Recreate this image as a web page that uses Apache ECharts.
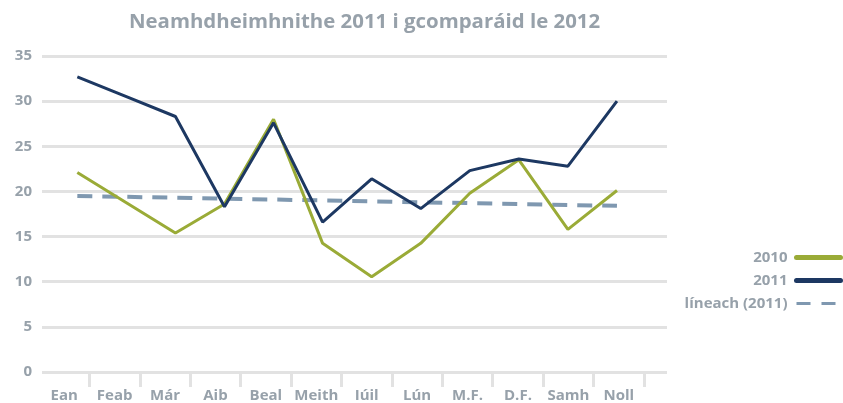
<!DOCTYPE html>
<html>
<head>
<meta charset="utf-8">
<script src="https://cdn.jsdelivr.net/npm/echarts@6/dist/echarts.min.js"></script>
<style>
html,body{margin:0;padding:0;background:#fff;}
#c{width:843px;height:403px;}
</style>
</head>
<body>
<div id="c"></div>
<script>
const titleText = 'Neamhdheimhnithe 2011 i gcomparáid le 2012';
const months = ['Ean','Feab','Már','Aib','Beal','Meith','Iúil','Lún','M.F.','D.F.','Samh','Noll'];
const yTicks = [0, 5, 10, 15, 20, 25, 30, 35];
const seriesNames = ['2010', '2011', 'líneach (2011)'];
const values2010 = [22.1, 18.75, 15.4, 18.6, 28.0, 14.25, 10.55, 14.25, 19.8, 23.5, 15.8, 20.1];
const values2011 = [32.7, 30.5, 28.3, 18.3, 27.6, 16.6, 21.4, 18.1, 22.3, 23.6, 22.8, 30.0];
const trend2011 = [19.5, 19.4, 19.3, 19.2, 19.1, 19.0, 18.9, 18.8, 18.7, 18.6, 18.5, 18.4];

const TXT = '#97a1aa';
const GRID = '#e2e2e2';
const FONT = 'Open Sans';
const pairs = arr => arr.map((v, i) => [i, v]);

const chart = echarts.init(document.getElementById('c'), null, {renderer: 'canvas'});
chart.setOption({
  animation: false,
  backgroundColor: '#ffffff',
  title: {
    text: titleText,
    left: 124, top: 7,
    textStyle: {color: TXT, fontFamily: FONT, fontWeight: 'bold', fontSize: 20.4}
  },
  legend: {
    orient: 'vertical',
    right: 0, top: 250,
    padding: 0,
    align: 'right',
    itemWidth: 44, itemHeight: 14, itemGap: 8,
    textStyle: {color: TXT, fontFamily: FONT, fontWeight: 'bold', fontSize: 15, padding: [0, 4, 0, 0]},
    data: [
      {name: seriesNames[0], lineStyle: {width: 5, cap: 'round'}, itemStyle: {opacity: 0}},
      {name: seriesNames[1], lineStyle: {width: 5, cap: 'round'}, itemStyle: {opacity: 0}},
      {name: seriesNames[2], lineStyle: {width: 3, type: [14, 11]}, itemStyle: {opacity: 0}}
    ]
  },
  grid: [
    {left: 42, right: 176, top: 56, bottom: 31},
    {left: 39, right: 199, top: 56, bottom: 31}
  ],
  xAxis: [
    {
      type: 'value', gridIndex: 0, min: -0.72, max: 12.02,
      show: false, splitLine: {show: false}
    },
    {
      type: 'category', gridIndex: 1, data: months, boundaryGap: true,
      axisLine: {show: false},
      axisTick: {show: true, length: 16, lineStyle: {color: GRID, width: 3}, interval: (i) => i !== 0},
      axisLabel: {color: TXT, fontFamily: FONT, fontWeight: 'bold', fontSize: 15, margin: 17, interval: 0}
    }
  ],
  yAxis: [
    {
      type: 'value', gridIndex: 0, min: yTicks[0], max: yTicks[yTicks.length - 1], interval: 5,
      axisLine: {show: false}, axisTick: {show: false},
      axisLabel: {color: TXT, fontFamily: FONT, fontWeight: 'bold', fontSize: 15, margin: 10},
      splitLine: {lineStyle: {color: GRID, width: 3}}
    },
    {
      type: 'value', gridIndex: 1, min: 0, max: 35, show: false, splitLine: {show: false}
    }
  ],
  series: [
    {
      name: seriesNames[0], type: 'line', xAxisIndex: 0, yAxisIndex: 0,
      data: pairs(values2010), symbol: 'none', z: 3,
      lineStyle: {color: '#9aab37', width: 3}, itemStyle: {color: '#9aab37'}
    },
    {
      name: seriesNames[1], type: 'line', xAxisIndex: 0, yAxisIndex: 0,
      data: pairs(values2011), symbol: 'none', z: 4,
      lineStyle: {color: '#1d3862', width: 3}, itemStyle: {color: '#1d3862'}
    },
    {
      name: seriesNames[2], type: 'line', xAxisIndex: 0, yAxisIndex: 0,
      data: pairs(trend2011), symbol: 'none', z: 2,
      lineStyle: {color: '#7f98b0', width: 4, type: [15, 10]}, itemStyle: {color: '#7f98b0'}
    }
  ]
});
</script>
</body>
</html>
